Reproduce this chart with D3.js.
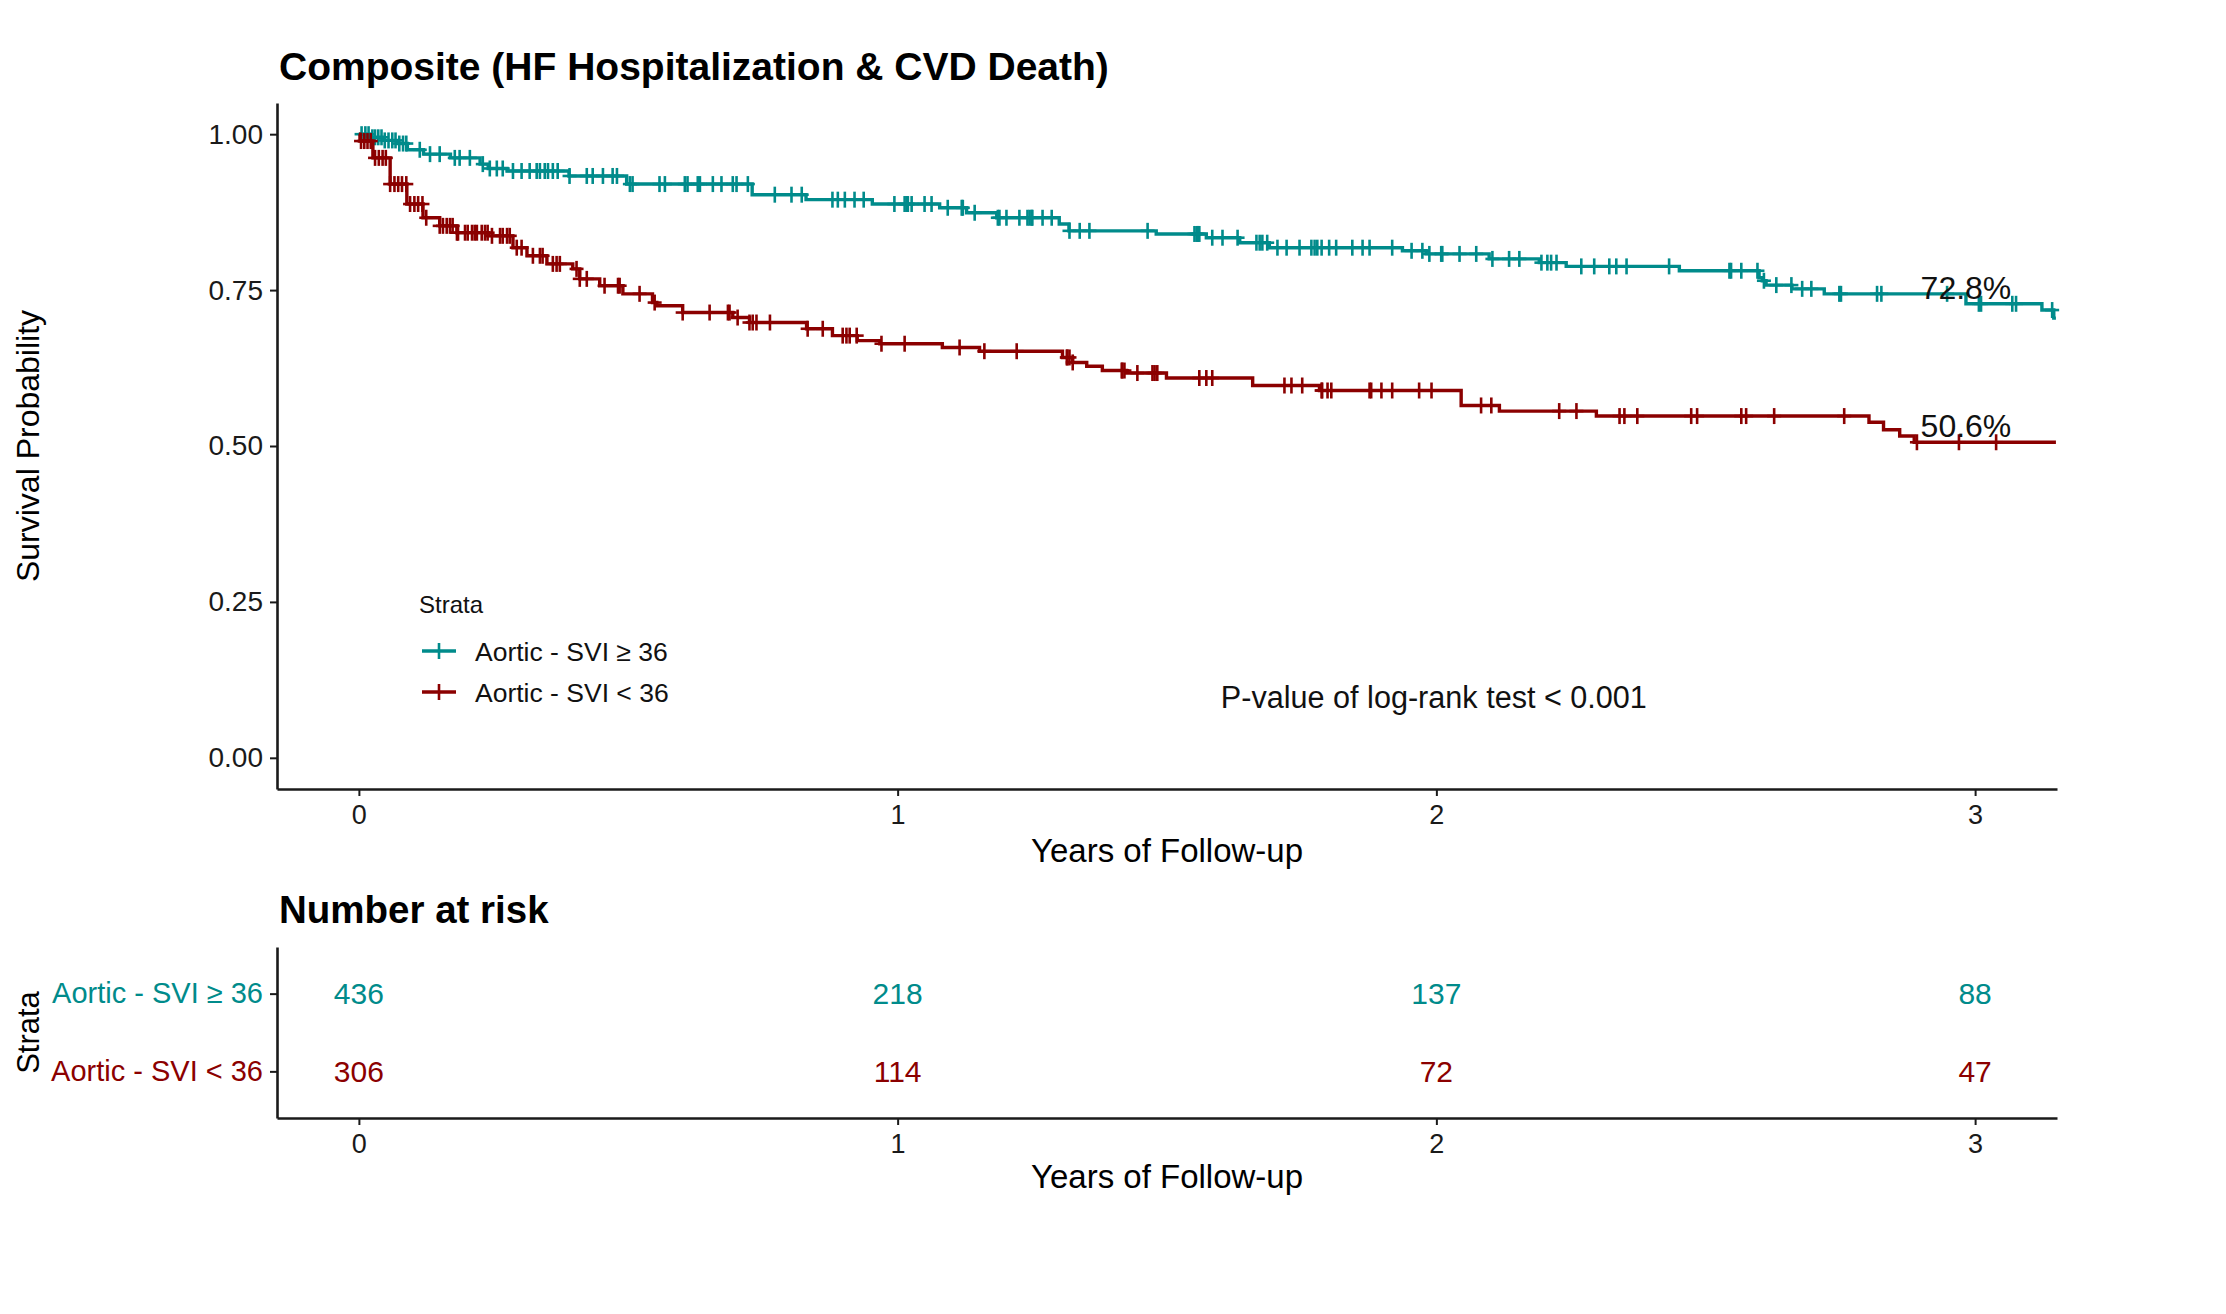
<!DOCTYPE html>
<html>
<head>
<meta charset="utf-8">
<script src="https://cdn.jsdelivr.net/npm/d3@7"></script>
<style>
  body { margin: 0; background: #fff; }
  text { font-family: "Liberation Sans", Arial, sans-serif; }
</style>
</head>
<body>
<div id="km"></div>
<script>
console.log("linked");

const STRATA = ["Aortic - SVI \u2265 36", "Aortic - SVI < 36"];

// step points: time in years, survival right after the step
const HIGH_TIME = [0, 0.02, 0.045, 0.07, 0.09, 0.12, 0.17, 0.225, 0.24, 0.275, 0.39, 0.497, 0.73, 0.83, 0.953,
  1.078, 1.128, 1.184, 1.30, 1.318, 1.48, 1.573, 1.635, 1.69, 1.937, 1.981, 2.098, 2.191, 2.241, 2.451,
  2.599, 2.605, 2.612, 2.66, 2.72, 2.983, 3.124, 3.146];
const HIGH_SURV = [1, 0.995, 0.99, 0.985, 0.975, 0.968, 0.962, 0.952, 0.945, 0.941, 0.933, 0.92, 0.903, 0.895, 0.888,
  0.882, 0.874, 0.866, 0.856, 0.845, 0.84, 0.834, 0.826, 0.818, 0.813, 0.808, 0.8, 0.794, 0.788, 0.781,
  0.77, 0.765, 0.758, 0.752, 0.744, 0.728, 0.718, 0.705];
const HIGH_CENSOR = [0.005, 0.012, 0.018, 0.025, 0.03, 0.036, 0.042, 0.048, 0.055, 0.062, 0.068, 0.075, 0.082, 0.088,
  0.113, 0.132, 0.15, 0.178, 0.187, 0.206, 0.23, 0.243, 0.256, 0.267, 0.286, 0.302, 0.317, 0.33, 0.336, 0.345,
  0.351, 0.36, 0.369, 0.391, 0.423, 0.434, 0.453, 0.471, 0.479, 0.503, 0.508, 0.558, 0.568, 0.605, 0.61, 0.629,
  0.633, 0.657, 0.673, 0.694, 0.701, 0.722, 0.772, 0.803, 0.822, 0.879, 0.889, 0.902, 0.92, 0.937, 0.994, 1.013,
  1.017, 1.019, 1.026, 1.05, 1.063, 1.093, 1.119, 1.121, 1.143, 1.186, 1.189, 1.202, 1.226, 1.241, 1.245, 1.249,
  1.25, 1.269, 1.286, 1.319, 1.338, 1.356, 1.464, 1.551, 1.555, 1.557, 1.56, 1.584, 1.603, 1.631, 1.666, 1.672,
  1.677, 1.686, 1.705, 1.722, 1.746, 1.768, 1.774, 1.779, 1.787, 1.801, 1.814, 1.844, 1.863, 1.876, 1.918, 1.954,
  1.974, 1.987, 2.009, 2.011, 2.043, 2.074, 2.104, 2.135, 2.154, 2.195, 2.206, 2.213, 2.223, 2.269, 2.293, 2.321,
  2.334, 2.353, 2.432, 2.544, 2.547, 2.566, 2.596, 2.608, 2.631, 2.659, 2.679, 2.696, 2.748, 2.751, 2.818, 2.826,
  2.948, 3.007, 3.011, 3.069, 3.076, 3.143];

const LOW_TIME = [0, 0.002, 0.026, 0.058, 0.089, 0.119, 0.15, 0.182, 0.24, 0.286, 0.312, 0.349, 0.397, 0.41, 0.447,
  0.49, 0.545, 0.553, 0.601, 0.694, 0.725, 0.831, 0.879, 0.925, 0.967, 1.083, 1.152, 1.306, 1.325, 1.351,
  1.38, 1.425, 1.499, 1.659, 1.783, 2.046, 2.117, 2.297, 2.803, 2.83, 2.86, 2.887];
const LOW_SURV = [1, 0.989, 0.962, 0.92, 0.888, 0.866, 0.853, 0.842, 0.837, 0.818, 0.805, 0.792, 0.784, 0.768, 0.757,
  0.744, 0.73, 0.725, 0.714, 0.706, 0.698, 0.688, 0.677, 0.669, 0.664, 0.658, 0.652, 0.642, 0.634, 0.628,
  0.621, 0.617, 0.609, 0.597, 0.589, 0.565, 0.556, 0.548, 0.538, 0.526, 0.516, 0.506];
const LOW_CENSOR = [0.004, 0.01, 0.016, 0.022, 0.03, 0.037, 0.044, 0.05, 0.058, 0.066, 0.073, 0.08, 0.088, 0.095,
  0.103, 0.11, 0.118, 0.125, 0.15, 0.156, 0.163, 0.169, 0.174, 0.182, 0.184, 0.197, 0.202, 0.21, 0.215, 0.219,
  0.228, 0.234, 0.239, 0.247, 0.262, 0.267, 0.275, 0.28, 0.293, 0.302, 0.323, 0.336, 0.341, 0.36, 0.367, 0.373,
  0.404, 0.41, 0.423, 0.456, 0.481, 0.484, 0.521, 0.549, 0.601, 0.651, 0.685, 0.688, 0.703, 0.725, 0.731, 0.738,
  0.763, 0.833, 0.861, 0.898, 0.905, 0.911, 0.924, 0.97, 1.013, 1.115, 1.161, 1.221, 1.314, 1.315, 1.319, 1.325,
  1.416, 1.417, 1.421, 1.445, 1.473, 1.477, 1.482, 1.56, 1.573, 1.584, 1.718, 1.731, 1.751, 1.787, 1.788, 1.798,
  1.805, 1.876, 1.879, 1.898, 1.918, 1.968, 1.991, 2.083, 2.102, 2.228, 2.26, 2.34, 2.349, 2.373, 2.473, 2.484,
  2.566, 2.575, 2.627, 2.757, 2.892, 2.97, 3.039];

const END_TIME = 3.15;
const END_LABELS = ["72.8%", "50.6%"];
const END_VALUES = [0.728, 0.506];

const X_TICKS = [0, 1, 2, 3];
const Y_TICKS = [0, 0.25, 0.5, 0.75, 1];
const HIGH_RISK = [436, 218, 137, 88];
const LOW_RISK = [306, 114, 72, 47];

const PVAL_TEXT = "P-value of log-rank test < 0.001";

const COLORS = ["#008B8B", "#8B0000"];

const FRAME_WIDTH = 2226;
const FRAME_HEIGHT = 1314;
const PANEL = {left: 277, right: 2057, top: 103, bottom: 789};
const RISK = {top: 947, bottom: 1118};

const FRAME = d3.select("#km")
                .append("svg")
                  .attr("width", FRAME_WIDTH)
                  .attr("height", FRAME_HEIGHT);

const X_SCALE = d3.scaleLinear()
                  .domain([-0.152, 3.152])
                  .range([PANEL.left, PANEL.right]);

const Y_SCALE = d3.scaleLinear()
                  .domain([-0.05, 1.05])
                  .range([PANEL.bottom, PANEL.top]);

const groups = [
  {name: STRATA[0], time: HIGH_TIME, surv: HIGH_SURV, censor: HIGH_CENSOR, risk: HIGH_RISK, color: COLORS[0]},
  {name: STRATA[1], time: LOW_TIME, surv: LOW_SURV, censor: LOW_CENSOR, risk: LOW_RISK, color: COLORS[1]}
];

function survAt(g, t) {
  const i = d3.bisectRight(g.time, t) - 1;
  return g.surv[Math.max(i, 0)];
}

function styleAxis(sel, fontSize) {
  sel.select(".domain").attr("stroke", "#1a1a1a").attr("stroke-width", 2.6);
  sel.selectAll(".tick line").attr("stroke", "#1a1a1a").attr("stroke-width", 2);
  sel.selectAll(".tick text")
     .attr("font-size", fontSize)
     .attr("fill", "#1a1a1a")
     .attr("font-family", "Liberation Sans, Arial, sans-serif");
}

// title
FRAME.append("text")
     .attr("x", 279)
     .attr("y", 80)
     .attr("font-size", 39)
     .attr("font-weight", "bold")
     .text("Composite (HF Hospitalization & CVD Death)");

// survival curves
const line = d3.line()
               .curve(d3.curveStepAfter)
               .x((d) => X_SCALE(d[0]))
               .y((d) => Y_SCALE(d[1]));

groups.forEach((g) => {
  const pts = g.time.map((t, i) => [t, g.surv[i]]);
  pts.push([END_TIME, g.surv[g.surv.length - 1]]);

  FRAME.append("path")
       .datum(pts)
       .attr("d", line)
       .attr("fill", "none")
       .attr("stroke", g.color)
       .attr("stroke-width", 3.4);

  const marks = FRAME.append("g")
                     .attr("stroke", g.color)
                     .attr("stroke-width", 2.6);

  marks.selectAll("line.v")
       .data(g.censor)
       .enter()
       .append("line")
         .attr("x1", (d) => X_SCALE(d))
         .attr("x2", (d) => X_SCALE(d))
         .attr("y1", (d) => Y_SCALE(survAt(g, d)) - 8)
         .attr("y2", (d) => Y_SCALE(survAt(g, d)) + 8);

  marks.selectAll("line.h")
       .data(g.censor)
       .enter()
       .append("line")
         .attr("x1", (d) => X_SCALE(d) - 7)
         .attr("x2", (d) => X_SCALE(d) + 7)
         .attr("y1", (d) => Y_SCALE(survAt(g, d)))
         .attr("y2", (d) => Y_SCALE(survAt(g, d)));
});

// survival at 3 years
FRAME.selectAll(".endlab")
     .data(END_VALUES)
     .enter()
     .append("text")
       .attr("x", X_SCALE(2.983))
       .attr("y", (d) => Y_SCALE(d) - 5)
       .attr("text-anchor", "middle")
       .attr("font-size", 32)
       .attr("fill", "#111")
       .text((d, i) => END_LABELS[i]);

// axes of the survival panel
FRAME.append("g")
     .attr("transform", "translate(" + PANEL.left + ",0)")
     .call(d3.axisLeft(Y_SCALE).tickValues(Y_TICKS).tickFormat(d3.format(".2f"))
             .tickSize(7).tickSizeOuter(0).tickPadding(7))
     .call(styleAxis, 28);

FRAME.append("g")
     .attr("transform", "translate(0," + PANEL.bottom + ")")
     .call(d3.axisBottom(X_SCALE).tickValues(X_TICKS).tickFormat(d3.format("d"))
             .tickSize(7).tickSizeOuter(0).tickPadding(9))
     .call(styleAxis, 27);

FRAME.append("text")
     .attr("transform", "translate(39," + ((PANEL.top + PANEL.bottom) / 2) + ") rotate(-90)")
     .attr("text-anchor", "middle")
     .attr("font-size", 32)
     .text("Survival Probability");

FRAME.append("text")
     .attr("x", (PANEL.left + PANEL.right) / 2)
     .attr("y", 862)
     .attr("text-anchor", "middle")
     .attr("font-size", 33)
     .text("Years of Follow-up");

// legend
const LEGEND = FRAME.append("g").attr("transform", "translate(422,0)");
LEGEND.append("text")
      .attr("x", -3)
      .attr("y", 613)
      .attr("font-size", 24)
      .attr("fill", "#111")
      .text("Strata");

const items = LEGEND.selectAll(".item")
                    .data(groups)
                    .enter()
                    .append("g")
                      .attr("transform", (d, i) => "translate(0," + (651 + i * 41) + ")");
items.append("line")
     .attr("x1", 0).attr("x2", 34)
     .attr("stroke", (d) => d.color)
     .attr("stroke-width", 3.4);
items.append("line")
     .attr("x1", 17).attr("x2", 17)
     .attr("y1", -8).attr("y2", 8)
     .attr("stroke", (d) => d.color)
     .attr("stroke-width", 2.6);
items.append("text")
     .attr("x", 53)
     .attr("dy", "0.36em")
     .attr("font-size", 26.5)
     .attr("fill", "#111")
     .text((d) => d.name);

// log-rank p-value
FRAME.append("text")
     .attr("x", X_SCALE(1.6))
     .attr("y", Y_SCALE(0.08))
     .attr("font-size", 30.6)
     .attr("fill", "#111")
     .text(PVAL_TEXT);

// number at risk table
FRAME.append("text")
     .attr("x", 279)
     .attr("y", 923)
     .attr("font-size", 38.5)
     .attr("font-weight", "bold")
     .text("Number at risk");

const RISK_Y = d3.scalePoint()
                 .domain(STRATA)
                 .range([RISK.top, RISK.bottom])
                 .padding(0.6);

const riskAxis = FRAME.append("g")
     .attr("transform", "translate(" + PANEL.left + ",0)")
     .call(d3.axisLeft(RISK_Y).tickSize(7).tickSizeOuter(0).tickPadding(7))
     .call(styleAxis, 29);
riskAxis.selectAll(".tick text")
        .attr("fill", (d, i) => COLORS[i]);

FRAME.append("g")
     .attr("transform", "translate(0," + RISK.bottom + ")")
     .call(d3.axisBottom(X_SCALE).tickValues(X_TICKS).tickFormat(d3.format("d"))
             .tickSize(7).tickSizeOuter(0).tickPadding(9))
     .call(styleAxis, 27);

groups.forEach((g) => {
  FRAME.selectAll(null)
       .data(g.risk)
       .enter()
       .append("text")
         .attr("x", (d, i) => X_SCALE(X_TICKS[i]))
         .attr("y", RISK_Y(g.name))
         .attr("dy", "0.36em")
         .attr("text-anchor", "middle")
         .attr("font-size", 30)
         .attr("fill", g.color)
         .text((d) => d);
});

FRAME.append("text")
     .attr("transform", "translate(39," + ((RISK.top + RISK.bottom) / 2) + ") rotate(-90)")
     .attr("text-anchor", "middle")
     .attr("font-size", 31)
     .text("Strata");

FRAME.append("text")
     .attr("x", (PANEL.left + PANEL.right) / 2)
     .attr("y", 1188)
     .attr("text-anchor", "middle")
     .attr("font-size", 33)
     .text("Years of Follow-up");
</script>
</body>
</html>
